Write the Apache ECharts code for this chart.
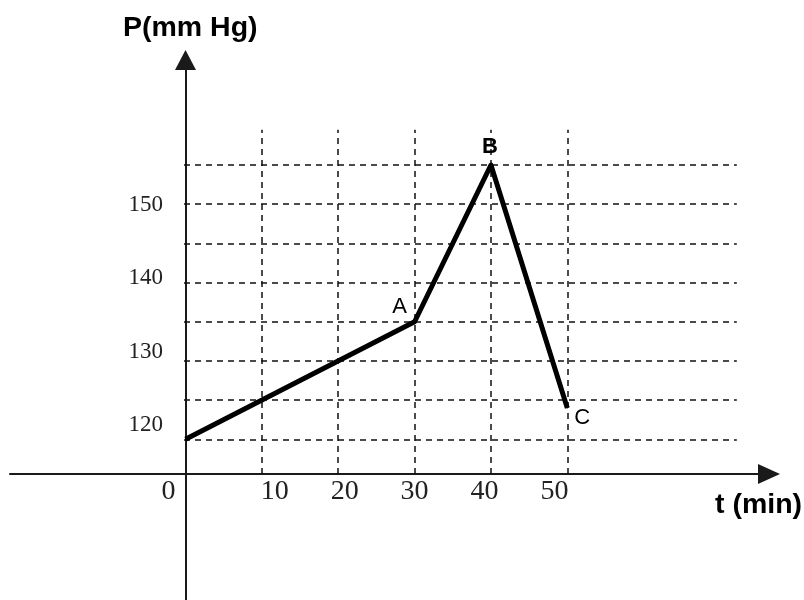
<!DOCTYPE html>
<html><head><meta charset="utf-8">
<script src="https://cdn.jsdelivr.net/npm/echarts@6/dist/echarts.min.js"></script>
<style>html,body{margin:0;padding:0;background:#fff}#c{width:804px;height:600px}</style>
</head><body><div id="c"></div>
<script>
// ---- data ----
const times = [0, 30, 40, 50];
const pressures = [120, 135, 155, 124];
const pointNames = ['', 'A', 'B', 'C'];
const xTickLabels = [0, 10, 20, 30, 40, 50];
const yTickLabels = [120, 130, 140, 150];
const gridTimes = [10, 20, 30, 40, 50];
const gridPressures = [120, 125, 130, 135, 140, 145, 150, 155];
const xAxisTitle = 't (min)';
const yAxisTitle = 'P(mm Hg)';

// ---- layout / style ----
const AX = '#1a1a1a';
const X0 = 185.5, XAXIS_Y = 474;
const PX_T = 7.636, PX_P = 7.837;
const P_AT_AXIS = 115.57;
const A_TOP = 60, A_RIGHT_END = 769;
const LEFT_PAD = 1.5; // px of grid A left of the y axis (for grid-line stubs)
const xMinA = -LEFT_PAD / PX_T;
const xMaxA = (A_RIGHT_END - X0) / PX_T;
const yMaxA = P_AT_AXIS + (XAXIS_Y - A_TOP) / PX_P;
const GRID_T_END = 72.2, GRID_P_TOP = 159.5;
const labelPlace = { A: [-15, -15], B: [-1, -18.5], C: [15, 10] };
const labelWeight = { A: 'normal', B: 'bold', C: 'normal' };

// label-only axes (reference labels sit on their own spacing)
const YL_PX = 7.333, YL_150 = 205;   // y labels: 150 at 205 px
const XL_PX = 6.99, XL_0 = 204.9;    // x labels: spacing ~70 px

const dash = { type: [6, 5], color: '#111', width: 1.5 };
const gridLines = [];
gridPressures.forEach(p => gridLines.push([{ coord: [xMinA, p] }, { coord: [GRID_T_END, p] }]));
gridTimes.forEach(t => gridLines.push([{ coord: [t, P_AT_AXIS] }, { coord: [t, GRID_P_TOP] }]));

const seriesData = times.map((t, i) => {
  const n = pointNames[i];
  return {
    value: [t, pressures[i]],
    name: n,
    label: n ? {
      show: true, formatter: n, position: 'inside', offset: labelPlace[n],
      color: '#000', fontFamily: 'Liberation Sans', fontSize: 22, fontWeight: labelWeight[n],
      textBorderWidth: 0
    } : { show: false }
  };
});

const hidden = { axisLine: { show: false }, axisTick: { show: false }, axisLabel: { show: false }, splitLine: { show: false } };

const yl110 = YL_150 + 40 * YL_PX, yl160 = YL_150 - 10 * YL_PX;

const option = {
  animation: false,
  backgroundColor: '#fff',
  title: [
    { text: yAxisTitle, left: 123, top: 13, padding: 0,
      textStyle: { fontFamily: 'Liberation Sans', fontSize: 28.5, fontWeight: 'bold', color: '#000', lineHeight: 30 } },
    { text: xAxisTitle, left: 715, top: 490, padding: 0,
      textStyle: { fontFamily: 'Liberation Sans', fontSize: 28.5, fontWeight: 'bold', color: '#000', lineHeight: 30 } }
  ],
  grid: [
    { left: X0 - LEFT_PAD, right: 804 - A_RIGHT_END, top: A_TOP, bottom: 600 - XAXIS_Y, containLabel: false },
    { left: 10, right: 804 - X0, top: XAXIS_Y, bottom: 0 },
    { left: X0, right: 300, top: yl160, bottom: 600 - yl110 },
    { left: XL_0, right: 804 - (XL_0 + 60 * XL_PX), top: 300, bottom: 600 - XAXIS_Y }
  ],
  xAxis: [
    { gridIndex: 0, type: 'value', min: xMinA, max: xMaxA,
      axisLine: { show: true, onZero: false, symbol: ['none', 'triangle'], symbolSize: [20, 22], lineStyle: { color: AX, width: 2 } },
      axisTick: { show: false }, axisLabel: { show: false }, splitLine: { show: false } },
    { gridIndex: 1, type: 'value', min: 0, max: 1, position: 'top',
      axisLine: { show: true, onZero: false, lineStyle: { color: AX, width: 2 } },
      axisTick: { show: false }, axisLabel: { show: false }, splitLine: { show: false } },
    Object.assign({ gridIndex: 2, type: 'value', min: 0, max: 1 }, hidden),
    { gridIndex: 3, type: 'value', min: 0, max: 60, interval: 10,
      axisLine: { show: false, onZero: false }, axisTick: { show: false }, splitLine: { show: false },
      axisLabel: { show: true, margin: 4, color: '#222', fontFamily: 'Liberation Serif', fontSize: 28,
        formatter: v => !xTickLabels.includes(v) ? '' : (v === 0 ? '{z|0}' : String(v)),
        rich: { z: { fontFamily: 'Liberation Serif', fontSize: 28, color: '#222', padding: [0, 72.8, 0, 0] } } } }
  ],
  yAxis: [
    { gridIndex: 0, type: 'value', min: P_AT_AXIS, max: yMaxA,
      axisLine: { show: true, onZero: true, symbol: ['none', 'triangle'], symbolSize: [21, 20], lineStyle: { color: AX, width: 2 } },
      axisTick: { show: false }, axisLabel: { show: false }, splitLine: { show: false } },
    { gridIndex: 1, type: 'value', min: 0, max: 1, position: 'right',
      axisLine: { show: true, onZero: false, lineStyle: { color: AX, width: 2 } },
      axisTick: { show: false }, axisLabel: { show: false }, splitLine: { show: false } },
    { gridIndex: 2, type: 'value', min: 110, max: 160, interval: 10,
      axisLine: { show: false, onZero: false }, axisTick: { show: false }, splitLine: { show: false },
      axisLabel: { show: true, margin: 22.5, color: '#222', fontFamily: 'Liberation Serif', fontSize: 23,
        formatter: v => yTickLabels.includes(v) ? String(v) : '' } },
    Object.assign({ gridIndex: 3, type: 'value', min: 0, max: 1 }, hidden)
  ],
  series: [
    { type: 'line', xAxisIndex: 0, yAxisIndex: 0, z: 3,
      data: seriesData,
      symbol: 'circle', symbolSize: 1, showSymbol: true,
      itemStyle: { color: '#000' },
      lineStyle: { color: '#000', width: 5, join: 'round' },
      emphasis: { disabled: true },
      markLine: { silent: true, z: 1, symbol: ['none', 'none'], label: { show: false },
        lineStyle: dash, emphasis: { disabled: true }, data: gridLines } }
  ]
};
echarts.init(document.getElementById('c')).setOption(option);
</script></body></html>
